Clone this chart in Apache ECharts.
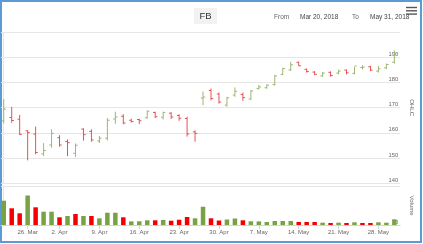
<!DOCTYPE html>
<html><head><meta charset="utf-8">
<script src="https://cdn.jsdelivr.net/npm/echarts@6/dist/echarts.min.js"></script>
<style>html,body{margin:0;padding:0;background:#fff}#c{width:423px;height:244px}</style>
</head><body><div id="c"></div>
<script>
const dates = ['2018-03-21','2018-03-22','2018-03-23','2018-03-26','2018-03-27','2018-03-28','2018-03-29',
 '2018-04-02','2018-04-03','2018-04-04','2018-04-05','2018-04-06','2018-04-09','2018-04-10','2018-04-11','2018-04-12','2018-04-13',
 '2018-04-16','2018-04-17','2018-04-18','2018-04-19','2018-04-20','2018-04-23','2018-04-24','2018-04-25','2018-04-26','2018-04-27',
 '2018-04-30','2018-05-01','2018-05-02','2018-05-03','2018-05-04','2018-05-07','2018-05-08','2018-05-09','2018-05-10','2018-05-11',
 '2018-05-14','2018-05-15','2018-05-16','2018-05-17','2018-05-18','2018-05-21','2018-05-22','2018-05-23','2018-05-24','2018-05-25',
 '2018-05-29','2018-05-30','2018-05-31'];
const opens = [164.8,166.1,165.4,160.8,159.5,151.7,155.2,158.1,156.6,151.9,161.5,160.6,156.8,157.9,165.5,166.6,165.0,165.3,166.0,168.1,
 166.2,167.8,166.9,165.7,160.4,173.8,176.8,175.4,171.0,175.0,175.2,173.4,177.6,177.9,179.2,183.2,185.0,188.0,185.2,184.1,
 182.6,184.0,183.7,184.9,183.6,185.9,186.2,184.5,185.8,188.0];
const highs = [173.4,170.3,167.1,161.1,162.5,155.9,161.4,159.1,157.4,155.8,161.8,161.4,158.8,165.9,168.4,167.4,165.6,165.6,168.9,168.4,
 168.4,168.2,167.4,166.4,161.0,176.4,177.6,176.0,174.3,178.0,176.0,177.0,179.0,179.3,183.0,185.8,188.2,188.3,185.5,184.5,
 184.2,184.4,185.1,185.1,186.2,186.8,186.6,186.6,187.5,192.7];
const lows = [163.8,164.0,159.1,149.1,151.5,150.8,154.1,154.5,150.8,150.5,156.9,156.5,156.0,157.0,163.6,163.4,164.1,163.5,165.6,165.9,
 165.3,165.5,164.8,158.5,156.5,171.0,172.9,171.6,170.4,174.3,172.7,173.0,177.2,177.5,178.7,182.9,184.5,186.5,183.9,182.9,
 182.2,182.3,183.2,183.2,183.2,185.2,184.5,183.9,185.3,187.5];
const closes = [169.4,164.9,159.4,160.1,152.2,153.0,159.8,155.2,156.1,155.1,159.3,157.2,157.9,165.0,166.3,163.9,164.5,164.8,168.6,166.4,
 168.1,166.3,165.8,159.6,159.8,174.2,173.6,172.2,173.9,176.5,174.0,176.6,178.2,178.9,182.6,185.5,187.0,186.6,184.3,183.2,
 183.7,182.7,184.5,183.8,186.5,186.1,184.9,185.4,187.1,191.4];
const volumes = [99.7,68.5,48,121,72.6,54.5,54.5,31.6,36.9,45.1,36.9,36.9,27.5,50.4,50.4,31.6,14.8,15.2,19.3,19.3,
 20.5,17.6,21.7,32.8,27.5,75,27.5,18.5,22.5,26.7,19.3,15.2,14.8,12.3,16.4,16.4,16.4,12.3,12.3,12.3,
 9.4,8.2,9.4,8.2,11,8.2,8.2,11,9.4,23.4];
const weekStarts = ['2018-03-26','2018-04-02','2018-04-09','2018-04-16','2018-04-23','2018-04-30','2018-05-07','2018-05-14','2018-05-21','2018-05-28'];
const tickLabels = ['26. Mar','2. Apr','9. Apr','16. Apr','23. Apr','30. Apr','7. May','14. May','21. May','28. May'];

const UP_LINE = '#9db673', DOWN_LINE = '#ea5050';
const UP_BAR = '#78a244', DOWN_BAR = '#f50000';
const FONT = 'Liberation Sans, Arial, sans-serif';

const tickIdx = weekStarts.map(w => dates.findIndex(d => d >= w));
const ohlcData = dates.map((d, i) => [i, opens[i], highs[i], lows[i], closes[i]]);
const volData = dates.map((d, i) => ({
  value: [i, volumes[i]],
  itemStyle: { color: (i === 0 ? closes[i] >= opens[i] : closes[i] >= closes[i - 1]) ? UP_BAR : DOWN_BAR }
}));

const xMin = -0.343, xMax = 49.72;

const chart = echarts.init(document.getElementById('c'));
chart.setOption({
  animation: false,
  textStyle: { fontFamily: FONT },
  grid: [
    { left: 1, right: 13, top: 32, height: 151.3 },
    { left: 1, right: 13, top: 186, height: 39 }
  ],
  xAxis: [
    { type: 'value', gridIndex: 0, min: xMin, max: xMax, show: false },
    { type: 'value', gridIndex: 1, min: xMin, max: xMax,
      axisLine: { show: true, lineStyle: { color: '#ccd6eb' } },
      axisTick: { show: true, customValues: tickIdx, length: 4, lineStyle: { color: '#ccd6eb' } },
      axisLabel: { customValues: tickIdx, fontSize: 6, color: '#666', margin: 4, fontFamily: FONT,
        formatter: v => { const k = tickIdx.indexOf(Math.round(v)); return k >= 0 ? tickLabels[k] : ''; } },
      splitLine: { show: false } }
  ],
  yAxis: [
    { type: 'value', gridIndex: 0, position: 'right', min: 140, max: 200, interval: 10,
      axisLabel: { inside: true, margin: 2, verticalAlign: 'bottom', fontSize: 5.8, color: '#666', showMaxLabel: false, fontFamily: FONT },
      axisLine: { show: true, lineStyle: { color: '#e6e6e6' } },
      axisTick: { show: false },
      splitLine: { show: true, lineStyle: { color: '#e6e6e6' } },
      name: 'OHLC', nameLocation: 'middle', nameGap: 6, nameRotate: -90,
      nameTextStyle: { fontSize: 6, color: '#666', fontFamily: FONT } },
    { type: 'value', gridIndex: 1, position: 'right', min: 0, max: 160, interval: 160,
      axisLabel: { inside: true, margin: 2, verticalAlign: 'bottom', fontSize: 5.8, color: '#666', fontFamily: FONT,
        formatter: v => v === 0 ? '0' : '' },
      axisLine: { show: true, lineStyle: { color: '#e6e6e6' } },
      axisTick: { show: false },
      splitLine: { show: true, lineStyle: { color: '#e6e6e6' } },
      name: 'Volume', nameLocation: 'middle', nameGap: 6, nameRotate: -90,
      nameTextStyle: { fontSize: 6, color: '#666', fontFamily: FONT } }
  ],
  series: [
    { type: 'custom', xAxisIndex: 0, yAxisIndex: 0, data: ohlcData, clip: true,
      renderItem: (params, api) => {
        const x = api.value(0);
        const o = api.coord([x, api.value(1)]);
        const h = api.coord([x, api.value(2)]);
        const l = api.coord([x, api.value(3)]);
        const c = api.coord([x, api.value(4)]);
        const stroke = api.value(4) >= api.value(1) ? UP_LINE : DOWN_LINE;
        const t = 2.2;
        const st = { stroke: stroke, lineWidth: 1 };
        return { type: 'group', children: [
          { type: 'line', shape: { x1: h[0], y1: h[1], x2: l[0], y2: l[1] }, style: st },
          { type: 'line', shape: { x1: o[0] - t, y1: o[1], x2: o[0], y2: o[1] }, style: st },
          { type: 'line', shape: { x1: c[0], y1: c[1], x2: c[0] + t, y2: c[1] }, style: st }
        ] };
      } },
    { type: 'bar', xAxisIndex: 1, yAxisIndex: 1, data: volData, barWidth: 4.5 }
  ],
  graphic: [
    { type: 'rect', shape: { x: 194, y: 8, width: 23, height: 16 }, style: { fill: '#f2f2f2' } },
    { type: 'text', x: 205.5, y: 16, style: { text: 'FB', fontSize: 9.5, fill: '#333', align: 'center', verticalAlign: 'middle', fontFamily: FONT } },
    { type: 'text', x: 274, y: 17.5, style: { text: 'From', fontSize: 6.5, fill: '#666', verticalAlign: 'middle', fontFamily: FONT } },
    { type: 'text', x: 300, y: 17.5, style: { text: 'Mar 20, 2018', fontSize: 6.5, fill: '#444', verticalAlign: 'middle', fontFamily: FONT } },
    { type: 'text', x: 352, y: 17.5, style: { text: 'To', fontSize: 6.5, fill: '#666', verticalAlign: 'middle', fontFamily: FONT } },
    { type: 'text', x: 370, y: 17.5, style: { text: 'May 31, 2018', fontSize: 6.5, fill: '#444', verticalAlign: 'middle', fontFamily: FONT } },
    { type: 'line', shape: { x1: 406, y1: 7.5, x2: 417, y2: 7.5 }, style: { stroke: '#555', lineWidth: 1.4 } },
    { type: 'line', shape: { x1: 406, y1: 10.8, x2: 417, y2: 10.8 }, style: { stroke: '#555', lineWidth: 1.4 } },
    { type: 'line', shape: { x1: 406, y1: 14.1, x2: 417, y2: 14.1 }, style: { stroke: '#555', lineWidth: 1.4 } },
    { type: 'rect', shape: { x: 1, y: 1, width: 420, height: 241 }, style: { fill: 'none', stroke: '#5b9bd5', lineWidth: 2 } }
  ]
});
</script></body></html>
